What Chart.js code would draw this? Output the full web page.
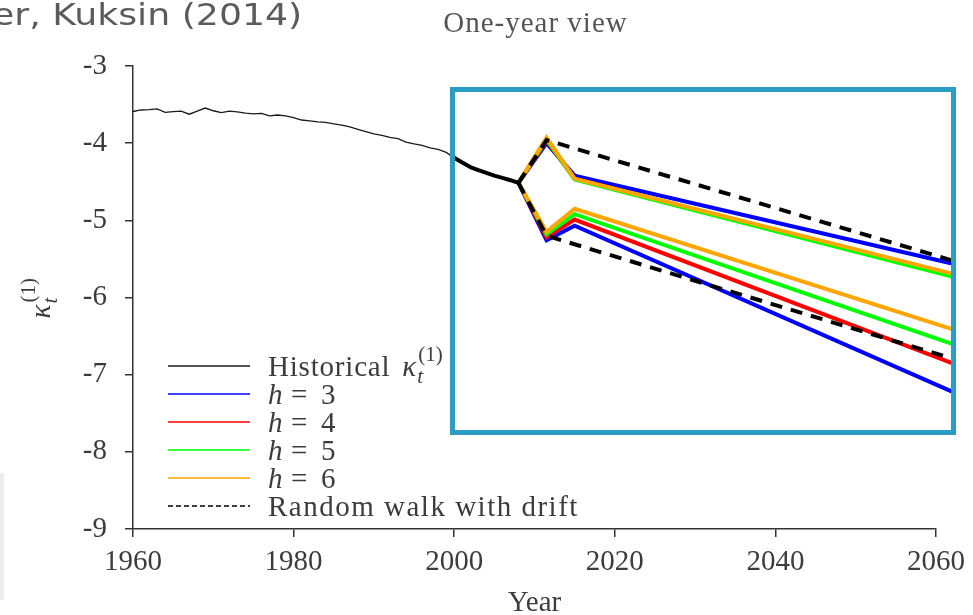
<!DOCTYPE html>
<html><head><meta charset="utf-8">
<script src="https://cdn.jsdelivr.net/npm/chart.js@4/dist/chart.umd.min.js"></script>
<style>
html,body{margin:0;padding:0;background:#fff;width:973px;height:615px;overflow:hidden;}
#wrap{position:relative;width:973px;height:615px;}
#c{position:absolute;left:0;top:0;}
#hdr{position:absolute;right:671px;top:-1px;line-height:31px;font-family:"DejaVu Sans";font-size:31px;color:#5b5b5b;white-space:nowrap;transform:scaleX(1.17);transform-origin:right top;}
#ttl{position:absolute;left:335.5px;width:400px;text-align:center;top:8px;line-height:29px;font-family:"Liberation Serif";font-size:29px;letter-spacing:1px;color:#555;}
#box{position:absolute;left:450px;top:87px;width:496px;height:338px;border:5px solid #2b9cc3;}
#edge{position:absolute;left:0;top:473px;width:4px;height:127px;background:#ececec;}
</style></head>
<body><div id="wrap">
<canvas id="c" width="973" height="615"></canvas>
<div id="hdr">er, Kuksin (2014)</div>
<div id="ttl">One-year view</div>
<div id="box"></div>
<div id="edge"></div>
</div>
<script>
// ---- data ----
const histYears = [1960,1961,1962,1963,1964,1965,1966,1967,1968,1969,1970,1971,1972,1973,1974,1975,1976,1977,1978,1979,1980,1981,1982,1983,1984,1985,1986,1987,1988,1989,1990,1991,1992,1993,1994,1995,1996,1997,1998,1999,2000,2001,2002,2003,2004,2005,2006,2007,2008];
const histValues = [-3.59,-3.57,-3.565,-3.555,-3.60,-3.59,-3.585,-3.625,-3.585,-3.545,-3.58,-3.605,-3.585,-3.595,-3.61,-3.62,-3.615,-3.645,-3.635,-3.645,-3.67,-3.70,-3.71,-3.725,-3.73,-3.75,-3.765,-3.79,-3.82,-3.85,-3.88,-3.90,-3.925,-3.94,-3.985,-4.01,-4.03,-4.06,-4.08,-4.12,-4.19,-4.25,-4.31,-4.35,-4.385,-4.42,-4.45,-4.48,-4.515];
const focusStartYear = 2000;

const fcYears = [2008, 2011.5, 2015, 2062];
const h3Upper = [-4.515, -4.00, -4.42, -5.56];
const h3Lower = [-4.515, -5.26, -5.07, -7.22];
const h4Upper = [-4.515, -3.97, -4.46, -5.71];
const h4Lower = [-4.515, -5.22, -4.99, -6.85];
const h5Upper = [-4.515, -3.95, -4.47, -5.73];
const h5Lower = [-4.515, -5.18, -4.92, -6.60];
const h6Upper = [-4.515, -3.93, -4.46, -5.69];
const h6Lower = [-4.515, -5.15, -4.85, -6.41];

const rwYears = [2008, 2011.5, 2062];
const rwUpper = [-4.515, -3.96, -5.52];
const rwLower = [-4.515, -5.20, -6.79];

const xTicks = [1960, 1980, 2000, 2020, 2040, 2060];
const yTicks = [-9, -8, -7, -6, -5, -4, -3];

const legendNames = ['Historical', 'h = 3', 'h = 4', 'h = 5', 'h = 6', 'Random walk with drift'];

// ---- helpers ----
const pts = (xs, ys) => xs.map((x, i) => ({x: x, y: ys[i]}));
const C = {black:'#000000', blue:'#0000ff', red:'#ff0000', green:'#00ff00', orange:'#ffa500'};
const SERIF = '"Liberation Serif", "Times New Roman", serif';
const TXT = '#3c3c3c';

function fcSet(label, xs, ys, color, order, dash) {
  return {label, data: pts(xs, ys), borderColor: color, backgroundColor: color,
    borderWidth: 4, pointRadius: 0, tension: 0, clip: false, order,
    borderDash: dash || [], borderJoinStyle: 'miter', borderCapStyle: 'butt'};
}

const focusIdx = histYears.indexOf(focusStartYear);

const datasets = [
  {label: 'Historical', data: pts(histYears, histValues), borderColor: '#1a1a1a', borderWidth: 1.3,
   pointRadius: 0, tension: 0, order: 9},
  {label: 'HistoricalFocus', data: pts(histYears.slice(focusIdx), histValues.slice(focusIdx)),
   borderColor: '#000', borderWidth: 4, pointRadius: 0, tension: 0, order: 1, borderJoinStyle: 'round'},
  fcSet('h = 3', fcYears, h3Upper, C.blue, 6),
  fcSet('h = 3 ', fcYears, h3Lower, C.blue, 6),
  fcSet('h = 4', fcYears, h4Upper, C.red, 5),
  fcSet('h = 4 ', fcYears, h4Lower, C.red, 5),
  fcSet('h = 5', fcYears, h5Upper, C.green, 4),
  fcSet('h = 5 ', fcYears, h5Lower, C.green, 4),
  fcSet('h = 6', fcYears, h6Upper, C.orange, 3),
  fcSet('h = 6 ', fcYears, h6Lower, C.orange, 3),
  fcSet('Random walk with drift', rwYears, rwUpper, C.black, 0, [12, 9]),
  fcSet('Random walk with drift ', rwYears, rwLower, C.black, 0, [12, 9])
];

function drawKappa(ctx, x, baseline, size, color) {
  ctx.fillStyle = color;
  ctx.textAlign = 'left';
  ctx.textBaseline = 'alphabetic';
  ctx.letterSpacing = '0px';
  ctx.font = 'italic ' + size + 'px ' + SERIF;
  ctx.fillText('κ', x, baseline);
  const w = ctx.measureText('κ').width;
  const s = Math.round(size * 0.72);
  ctx.font = 'italic ' + s + 'px ' + SERIF;
  ctx.fillText('t', x + w + 1, baseline + size * 0.24);
  ctx.font = s + 'px ' + SERIF;
  ctx.fillText('(1)', x + w + 2, baseline - size * 0.52);
}

const overlay = {
  id: 'overlay',
  afterDraw(chart) {
    const ctx = chart.ctx, a = chart.chartArea;
    ctx.save();
    // y axis label (rotated)
    ctx.translate(a.left - 83, (a.top + a.bottom) / 2);
    ctx.rotate(-Math.PI / 2);
    drawKappa(ctx, -21, 0, 29, TXT);
    ctx.restore();

    // legend
    const ds = chart.data.datasets;
    const byLabel = l => ds.find(d => d.label === l);
    const x0 = a.left + 35, x1 = a.left + 117, tx = a.left + 135;
    legendNames.forEach((name, i) => {
      const y = a.bottom - 163 + i * 28;
      const d = byLabel(name);
      ctx.save();
      ctx.strokeStyle = d.borderColor;
      ctx.lineWidth = 1.6;
      ctx.setLineDash(d.borderDash && d.borderDash.length ? [5, 3] : []);
      ctx.beginPath(); ctx.moveTo(x0, y); ctx.lineTo(x1, y); ctx.stroke();
      ctx.restore();
      ctx.save();
      ctx.fillStyle = TXT;
      ctx.textBaseline = 'alphabetic';
      ctx.textAlign = 'left';
      const base = y + 10;
      if (name === 'Historical') {
        ctx.font = '29px ' + SERIF;
        ctx.letterSpacing = '0.8px';
        ctx.fillText('Historical', tx, base);
        const w = ctx.measureText('Historical').width;
        drawKappa(ctx, tx + w + 12, base, 29, TXT);
      } else if (name.startsWith('h =')) {
        ctx.font = 'italic 29px ' + SERIF;
        ctx.fillText('h', tx, base);
        ctx.font = '29px ' + SERIF;
        ctx.fillText('=', tx + 23, base);
        ctx.fillText(name.slice(4), tx + 53, base);
      } else {
        ctx.font = '29px ' + SERIF;
        ctx.letterSpacing = '1.5px';
        ctx.fillText(name, tx, base);
      }
      ctx.restore();
    });
  }
};

new Chart(document.getElementById('c'), {
  type: 'line',
  data: {datasets},
  plugins: [overlay],
  options: {
    responsive: false,
    animation: false,
    events: [],
    layout: {padding: {top: 66, right: 35, left: 0, bottom: 0}},
    plugins: {legend: {display: false}, tooltip: {enabled: false}, title: {display: false}},
    scales: {
      x: {
        type: 'linear', min: 1960, max: 2060,
        afterFit(s) { s.height = 86; },
        afterBuildTicks(s) { s.ticks = xTicks.map(v => ({value: v})); },
        ticks: {callback: v => String(v), color: TXT, font: {family: SERIF, size: 29}, padding: 8, maxRotation: 0, autoSkip: false},
        grid: {drawOnChartArea: false, drawTicks: true, tickLength: 8, color: '#333', lineWidth: 1.5},
        border: {display: true, color: '#333', width: 1.5},
        title: {display: true, text: 'Year', color: TXT, font: {family: SERIF, size: 29}, padding: {top: 0, bottom: -6}}
      },
      y: {
        type: 'linear', min: -9, max: -3,
        afterFit(s) { s.width = 133; },
        afterBuildTicks(s) { s.ticks = yTicks.map(v => ({value: v})); },
        ticks: {callback: v => String(v), color: TXT, font: {family: SERIF, size: 29}, padding: 18, autoSkip: false},
        grid: {drawOnChartArea: false, drawTicks: true, tickLength: 8, color: '#333', lineWidth: 1.5},
        border: {display: true, color: '#333', width: 1.5}
      }
    }
  }
});
</script>
</body></html>
